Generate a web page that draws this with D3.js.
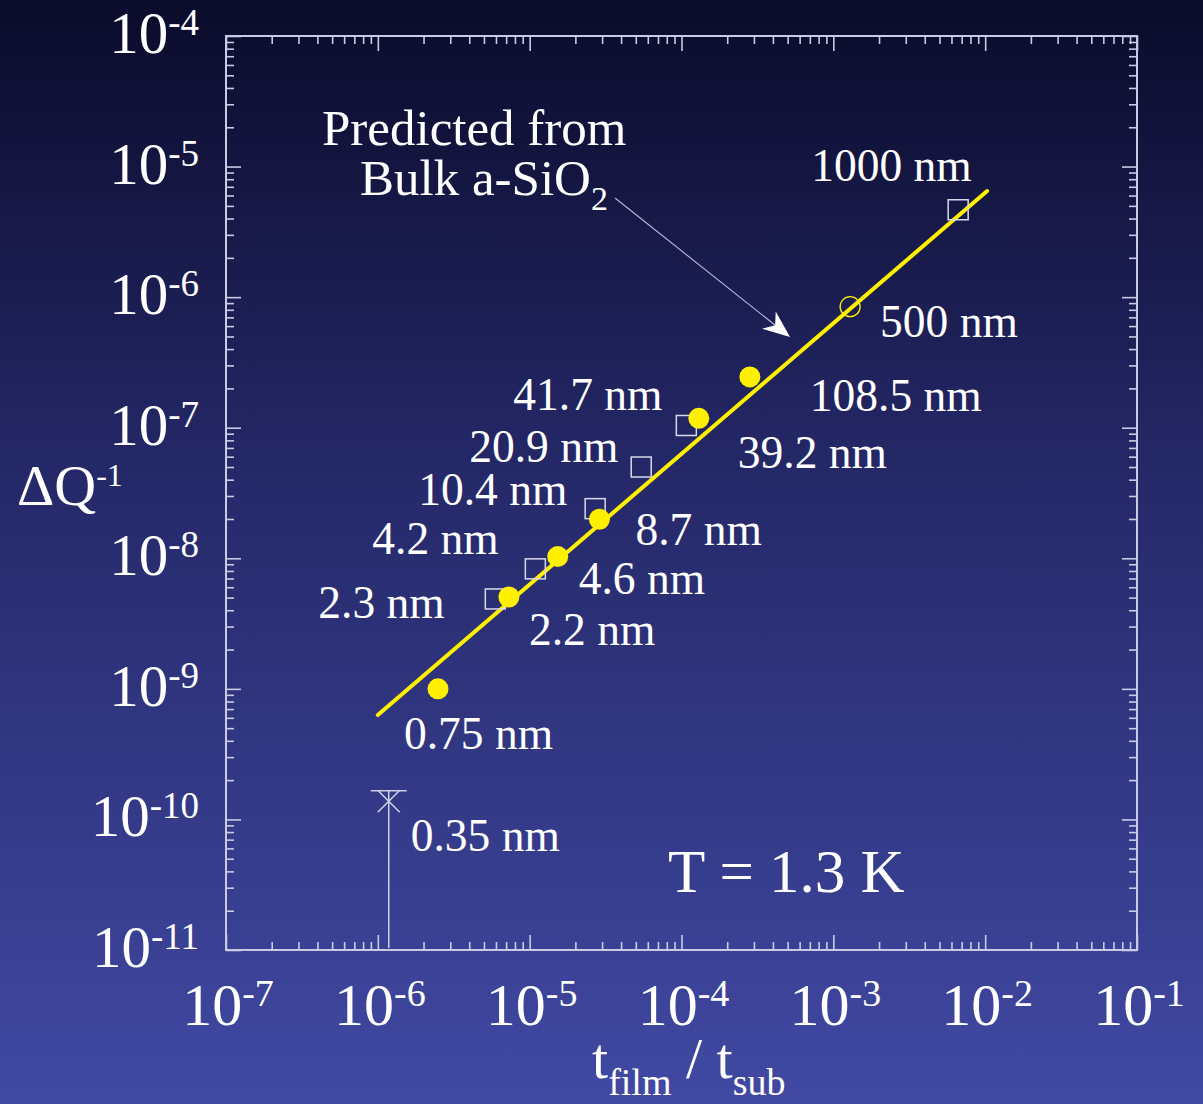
<!DOCTYPE html>
<html>
<head>
<meta charset="utf-8">
<script src="https://cdn.jsdelivr.net/npm/d3@7"></script>
<style>
  html, body { margin: 0; padding: 0; background: #0c0c2e; }
  svg { display: block; }
  text { font-family: "Liberation Serif", "Times New Roman", serif; fill: #ffffff; }
</style>
</head>
<body>
<svg id="chart" width="1203" height="1104" font-family="Liberation Serif, serif"></svg>
<script>
// ---- data ----------------------------------------------------------------
// Filled circles: films measured in this work
const filledLabels = ["0.75 nm", "2.2 nm", "4.6 nm", "8.7 nm", "39.2 nm", "108.5 nm"];
const filledX = [2.49e-6, 7.3e-6, 1.53e-5, 2.88e-5, 1.30e-4, 2.82e-4];
const filledY = [1.0e-9, 5.05e-9, 1.03e-8, 1.99e-8, 1.18e-7, 2.45e-7];

// Open squares: second film series
const squareLabels = ["2.3 nm", "4.2 nm", "10.4 nm", "20.9 nm", "41.7 nm", "1000 nm"];
const squareX = [5.94e-6, 1.09e-5, 2.70e-5, 5.43e-5, 1.076e-4, 6.64e-3];
const squareY = [4.88e-9, 8.3e-9, 2.40e-8, 5.0e-8, 1.04e-7, 4.67e-6];

// Open circle
const openLabels = ["500 nm"];
const openX = [1.29e-3];
const openY = [8.45e-7];

// Upper limit for the thinnest film
const limitLabels = ["0.35 nm"];
const limitX = [1.18e-6];
const limitY = [1.38e-10];
const limitTop = [1.66e-10];

// Prediction from bulk a-SiO2 (linear in t_film / t_sub)
const predX = [1.0e-6, 1.03e-2];
const predY = [6.3e-10, 6.5e-6];

// Axis decades
const xTickExps = ["-7", "-6", "-5", "-4", "-3", "-2", "-1"];
const yTickExps = ["-4", "-5", "-6", "-7", "-8", "-9", "-10", "-11"];

// ---- layout --------------------------------------------------------------
const W = 1203, H = 1104;
const L = 226, R = 1137, T = 36, B = 950;

// label placement relative to each marker (start x, baseline y)
const labelOffset = {
  "0.75 nm": [-34, 60], "2.2 nm": [20, 48], "4.6 nm": [21, 37], "8.7 nm": [36, 26],
  "39.2 nm": [39, 50], "108.5 nm": [60, 34], "500 nm": [30, 30],
  "2.3 nm": [-177, 19], "4.2 nm": [-163, -15], "10.4 nm": [-177, -4],
  "20.9 nm": [-172, -5], "41.7 nm": [-173, -15], "1000 nm": [-147, -29],
  "0.35 nm": [22, 50]
};

const svg = d3.select("#chart");

// background gradient
const defs = svg.append("defs");
const grad = defs.append("linearGradient").attr("id", "bg")
  .attr("x1", 0).attr("y1", 0).attr("x2", 0).attr("y2", 1);
grad.append("stop").attr("offset", "0%").attr("stop-color", "#0b0b2b");
grad.append("stop").attr("offset", "45%").attr("stop-color", "#262a6b");
grad.append("stop").attr("offset", "100%").attr("stop-color", "#4149a3");
svg.append("rect").attr("width", W).attr("height", H).attr("fill", "url(#bg)");

const x = d3.scaleLog().domain([1e-7, 1e-1]).range([L, R]);
const y = d3.scaleLog().domain([1e-11, 1e-4]).range([B, T]);

const axisColor = "#c9cbe6";

const isMajor = v => Math.abs(Math.log10(v) - Math.round(Math.log10(v))) < 1e-9;
const xAll = x.ticks(), yAll = y.ticks();
const xMajor = xAll.filter(isMajor), xMinor = xAll.filter(v => !isMajor(v));
const yMajor = yAll.filter(isMajor), yMinor = yAll.filter(v => !isMajor(v));

function drawAxis(axisFn, scale, values, size, transform) {
  const g = svg.append("g").attr("transform", transform)
    .call(axisFn(scale).tickValues(values).tickSize(size).tickFormat(""));
  g.select(".domain").remove();
  g.selectAll(".tick line").attr("stroke", axisColor).attr("stroke-width", 1.6);
}
// ticks point inward on all four sides
drawAxis(d3.axisBottom, x, xMajor, -15, `translate(0,${B})`);
drawAxis(d3.axisBottom, x, xMinor, -8, `translate(0,${B})`);
drawAxis(d3.axisTop, x, xMajor, -15, `translate(0,${T})`);
drawAxis(d3.axisTop, x, xMinor, -8, `translate(0,${T})`);
drawAxis(d3.axisLeft, y, yMajor, -15, `translate(${L},0)`);
drawAxis(d3.axisLeft, y, yMinor, -8, `translate(${L},0)`);
drawAxis(d3.axisRight, y, yMajor, -15, `translate(${R},0)`);
drawAxis(d3.axisRight, y, yMinor, -8, `translate(${R},0)`);

svg.append("rect").attr("x", L).attr("y", T).attr("width", R - L).attr("height", B - T)
  .attr("fill", "none").attr("stroke", axisColor).attr("stroke-width", 2);

// tick labels: 10 with a raised exponent
const xLab = svg.append("g");
xMajor.forEach((v, i) => {
  const t = xLab.append("text").attr("x", x(v) + 2).attr("y", B + 75)
    .attr("text-anchor", "middle").attr("font-size", 60);
  t.append("tspan").text("10");
  t.append("tspan").attr("font-size", 38).attr("dy", -19).text(xTickExps[i]);
});
const yLab = svg.append("g");
yMajor.slice().sort((a, b) => b - a).forEach((v, i) => {
  const t = yLab.append("text").attr("x", 199).attr("y", y(v) + 17)
    .attr("text-anchor", "end").attr("font-size", 59);
  t.append("tspan").text("10");
  t.append("tspan").attr("font-size", 37).attr("dy", -18).text(yTickExps[i]);
});

// axis titles
const yt = svg.append("text").attr("x", 17).attr("y", 505).attr("font-size", 58);
yt.append("tspan").text("ΔQ");
yt.append("tspan").attr("font-size", 32).attr("dy", -19).text("-1");

const xt = svg.append("text").attr("x", 592).attr("y", 1078).attr("font-size", 58);
xt.append("tspan").text("t");
xt.append("tspan").attr("font-size", 38).attr("dy", 17).text("film");
xt.append("tspan").attr("dy", -17).text(" / t");
xt.append("tspan").attr("font-size", 38).attr("dy", 17).text("sub");

// prediction line
const line = d3.line().x(d => x(d[0])).y(d => y(d[1]));
svg.append("path").datum(d3.zip(predX, predY)).attr("d", line)
  .attr("fill", "none").attr("stroke", "#fff000").attr("stroke-width", 4)
  .attr("stroke-linecap", "round");

// upper limit marker for the thinnest film
limitX.forEach((v, i) => {
  const cx = x(v), cy = y(limitY[i]), top = y(limitTop[i]);
  const g = svg.append("g").attr("stroke", "#cfd0ea").attr("stroke-width", 1.5).attr("fill", "none");
  g.append("line").attr("x1", cx).attr("x2", cx).attr("y1", top).attr("y2", B - 2);
  g.append("line").attr("x1", cx - 18).attr("x2", cx + 18).attr("y1", top).attr("y2", top);
  g.append("path").attr("d", `M${cx - 11},${cy - 11}L${cx + 11},${cy + 11}M${cx - 11},${cy + 11}L${cx + 11},${cy - 11}`);
});

// open squares
svg.append("g").selectAll("rect").data(d3.range(squareX.length)).join("rect")
  .attr("x", i => x(squareX[i]) - 10).attr("y", i => y(squareY[i]) - 10)
  .attr("width", 20).attr("height", 20)
  .attr("fill", "none").attr("stroke", "#d8d9ec").attr("stroke-width", 1.5);

// open circle
svg.append("g").selectAll("circle").data(d3.range(openX.length)).join("circle")
  .attr("cx", i => x(openX[i])).attr("cy", i => y(openY[i])).attr("r", 10)
  .attr("fill", "none").attr("stroke", "#fff000").attr("stroke-width", 1.3);

// filled circles
svg.append("g").selectAll("circle").data(d3.range(filledX.length)).join("circle")
  .attr("cx", i => x(filledX[i])).attr("cy", i => y(filledY[i])).attr("r", 10.5)
  .attr("fill", "#fff000");

// point labels
const labels = svg.append("g").attr("font-size", 45.5);
function addLabels(names, xs, ys) {
  names.forEach((n, i) => {
    const o = labelOffset[n];
    labels.append("text").attr("x", x(xs[i]) + o[0]).attr("y", y(ys[i]) + o[1]).text(n);
  });
}
addLabels(filledLabels, filledX, filledY);
addLabels(squareLabels, squareX, squareY);
addLabels(openLabels, openX, openY);
addLabels(limitLabels, limitX, limitY);

// annotation
const ann = svg.append("g").attr("font-size", 51);
ann.append("text").attr("x", 322).attr("y", 145).text("Predicted from");
const a2 = ann.append("text").attr("x", 360).attr("y", 195);
a2.append("tspan").text("Bulk a-SiO");
a2.append("tspan").attr("font-size", 34).attr("dy", 15).text("2");

// arrow towards the prediction line
const ax0 = 615, ay0 = 198, ax1 = 790, ay1 = 337;
const ang = Math.atan2(ay1 - ay0, ax1 - ax0);
const ca = Math.cos(ang), sa = Math.sin(ang);
const pt = (u, v) => [ax1 + u * ca - v * sa, ay1 + u * sa + v * ca];
svg.append("line").attr("x1", ax0).attr("y1", ay0)
  .attr("x2", pt(-16, 0)[0]).attr("y2", pt(-16, 0)[1])
  .attr("stroke", "#b9bbd8").attr("stroke-width", 1.1);
svg.append("path")
  .attr("d", "M" + [pt(0, 0), pt(-27, -11), pt(-19, 0), pt(-27, 11)].map(p => p.join(",")).join("L") + "Z")
  .attr("fill", "#ffffff");

// temperature
svg.append("text").attr("x", 668).attr("y", 892).attr("font-size", 61).text("T = 1.3 K");
</script>
</body>
</html>
